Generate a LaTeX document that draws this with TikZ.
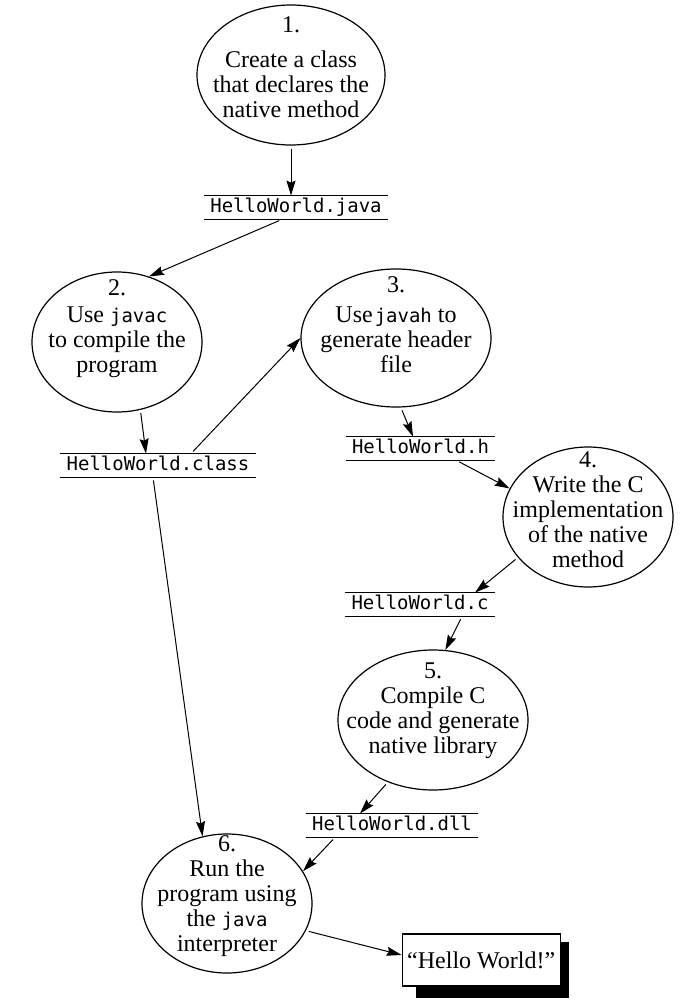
\documentclass[tikz,border=0pt]{standalone}
\usepackage{fontspec}
\setmainfont{Liberation Serif}
\setmonofont[Scale=0.79]{DejaVu Sans Mono}
\usetikzlibrary{shapes.geometric, arrows.meta, positioning, backgrounds}
\tikzstyle{process} = [ellipse, draw=black, line width=0.6pt, inner sep=0pt, minimum width=85pt, minimum height=70pt, font=\fontsize{12}{12.5}\selectfont]
\tikzstyle{store} = [font=\fontsize{12}{14}\selectfont\ttfamily, inner xsep=3pt, inner ysep=1.25pt, text height=7pt, text depth=2pt]
\tikzstyle{outbox} = [rectangle, draw=black, fill=white, line width=0.6pt, minimum height=26pt, inner xsep=2.5pt, font=\fontsize{12}{14}\selectfont]
\tikzstyle{rule} = [line width=0.6pt]
\tikzstyle{arrow} = [line width=0.5pt, shorten <=1.5pt, -{Stealth[length=7.5pt, width=4.5pt, inset=1pt]}]
\newcommand{\steptext}[2][0pt]{\raisebox{#1}[0pt][0pt]{\makebox[0pt]{\begin{tabular}{@{}c@{}}#2\end{tabular}}}}

\begin{document}
\begin{tikzpicture}[x=0.5pt, y=-0.5pt]
		\useasboundingbox (0,0) rectangle (698,1006);
		\node (CreateClass) [process, minimum width=94pt] at (291,75) {\steptext[-0.75pt]{1.\\[5pt] Create a class\\ that declares the\\ native method}};
		\node (UseJavac) [process] at (117,342) {\steptext[3.5pt]{2.\\[1pt] Use \texttt{javac}\\ to compile the\\ program}};
		\node (UseJavah) [process, minimum width=95pt, minimum height=69pt] at (396,338) {\steptext[2.25pt]{3.\\[2.5pt] Use\hspace{1pt}\texttt{javah} to\\ generate header\\ file}};
		\node (WriteC) [process] at (588,517) {\steptext[-0.75pt]{4.\\ Write the C\\ implementation\\ of the native\\ method}};
		\node (CompileC) [process, minimum width=95pt] at (433,720) {\steptext[1.5pt]{5.\\ Compile C\\ code and generate\\ native library}};
		\node (RunJava) [process, minimum height=69.5pt] at (227,903.5) {\steptext[0.75pt]{6.\\ Run the\\ program using\\ the \texttt{java}\\ interpreter}};
		\node (JavaFile) [store, below = 25pt of CreateClass, xshift=2.5pt] {HelloWorld.java};
		\node (ClassFile) [store, below = 20.5pt of UseJavac, xshift=20.5pt] {HelloWorld.class};
		\node (HeaderFile) [store, below = 14.5pt of UseJavah, xshift=12.25pt] {HelloWorld.h};
		\node (CFile) [store, above = 16.5pt of CompileC, xshift=-6.5pt] {HelloWorld.c};
		\node (DllFile) [store, below = 11.5pt of CompileC, xshift=-20.5pt] {HelloWorld.dll\ };
		\node (Output) [outbox, right = 44.5pt of RunJava, yshift=-28.25pt] {``Hello World!''};
		\foreach \f in {JavaFile, ClassFile, HeaderFile, CFile, DllFile}
			\draw [rule] (\f.north west) -- (\f.north east) (\f.south west) -- (\f.south east);
		\begin{scope}[on background layer]
			\fill ([shift={(14,9)}]Output.north west) rectangle ([shift={(8,11)}]Output.south east);
		\end{scope}
		\draw [arrow] (CreateClass) -- (CreateClass |- JavaFile.north);
		\draw [arrow] ([xshift=-7pt]JavaFile.south) -- (UseJavac.64);
		\draw [arrow] (UseJavac.-71) -- ([xshift=-6pt]ClassFile.north);
		\draw [arrow] ([xshift=16.5pt]ClassFile.north) -- (UseJavah.west);
		\draw [arrow] (UseJavah.-86) -- ([xshift=-3.75pt]HeaderFile.north);
		\draw [arrow] ([xshift=18pt]HeaderFile.south) -- (WriteC.160);
		\draw [arrow] (WriteC.210) -- ([xshift=27.5pt]CFile.north);
		\draw [arrow] ([xshift=21pt]CFile.south) -- (CompileC.80);
		\draw [arrow] (CompileC.234) -- ([xshift=-16pt]DllFile.north);
		\draw [arrow] ([xshift=-28.5pt]DllFile.south) -- (RunJava.23);
		\draw [arrow] ([xshift=-2.5pt]ClassFile.south) -- (RunJava.110);
		\draw [arrow] (RunJava.-19) -- ([yshift=2.5pt]Output.west);
\end{tikzpicture}
\end{document}
